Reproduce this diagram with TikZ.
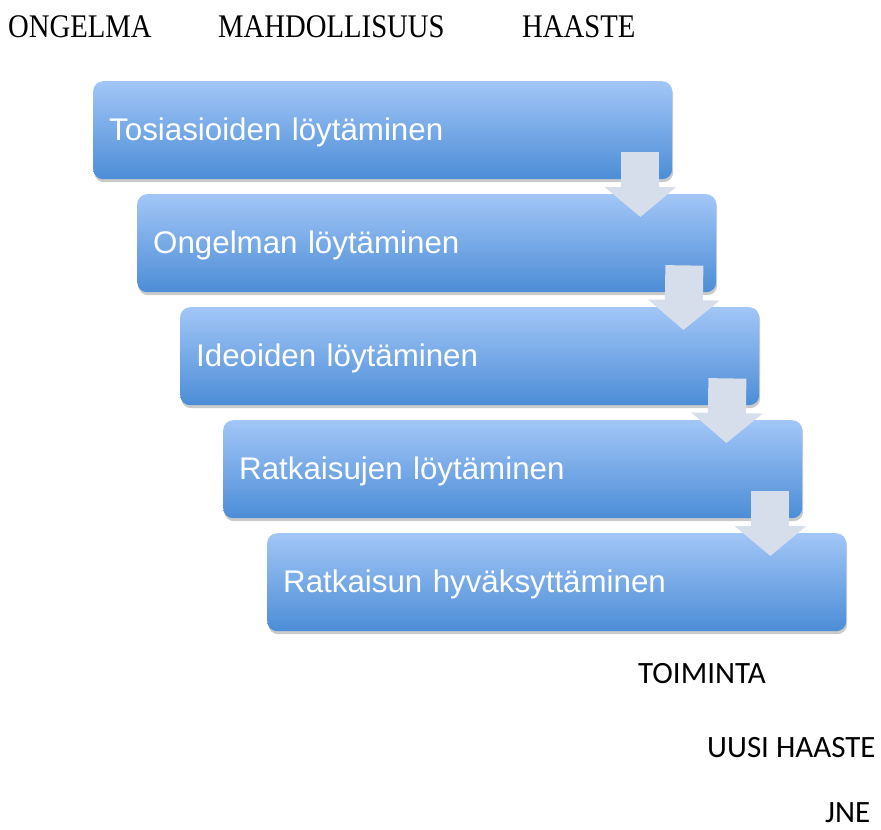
\documentclass[tikz,border=0pt]{standalone}
\usepackage{fontspec}
\usepackage{tikz}
\usetikzlibrary{arrows.meta,positioning,shadows}
\newfontfamily\boxfont{Liberation Sans}
\newfontfamily\headfont[FakeStretch=0.87]{Liberation Serif}
\newfontfamily\notefont{Carlito}
\definecolor{stepblue}{RGB}{162,198,247}
\definecolor{stepdeep}{RGB}{76,141,214}
\definecolor{flowgray}{RGB}{214,222,236}

\begin{document}
\begin{tikzpicture}[
  x=1pt,y=-1pt,
  stagebox/.style={rounded corners=10pt,top color=stepblue,bottom color=stepdeep,
    draw=none,text=white,anchor=north west,align=left,text width=547pt,
    inner xsep=16pt,inner ysep=0pt,minimum height=98pt,
    text height=21pt,text depth=0pt,
    font=\boxfont\fontsize{31.3}{33}\selectfont,
    drop shadow={shadow xshift=1pt,shadow yshift=-3pt,opacity=0.35,fill=black!60}},
  flow/.style={draw=flowgray,line width=38pt,
    -{Triangle[width=70pt,length=30pt]}},
  head/.style={anchor=base west,inner sep=0pt,
    font=\headfont\fontsize{33}{35}\selectfont},
  note/.style={anchor=base west,inner sep=0pt,
    font=\notefont\fontsize{31}{33}\selectfont}
]
\useasboundingbox (0,0) rectangle (881,830);
\node[head] (ongelma) at (8,37) {ONGELMA};
\node[head] (mahd) at (218,37) {MAHDOLLISUUS};
\node[head] (haaste) at (522,37) {HAASTE};
\node[stagebox] (facts) at (93,81) {Tosiasioiden löytäminen};
\node[stagebox] (problem) at (137,194) {Ongelman löytäminen};
\node[stagebox] (ideas) at (180,307) {Ideoiden löytäminen};
\node[stagebox] (solutions) at (223,420) {Ratkaisujen löytäminen};
\node[stagebox] (accept) at (267,533) {Ratkaisun hyväksyttäminen};
\draw[flow] ([xshift=-32pt,yshift=27pt]facts.south east) -- ([xshift=-76pt,yshift=-23pt]problem.north east);
\draw[flow] ([xshift=-32pt,yshift=27pt]problem.south east) -- ([xshift=-76pt,yshift=-23pt]ideas.north east);
\draw[flow] ([xshift=-32pt,yshift=27pt]ideas.south east) -- ([xshift=-76pt,yshift=-23pt]solutions.north east);
\draw[flow] ([xshift=-32pt,yshift=27pt]solutions.south east) -- ([xshift=-76pt,yshift=-23pt]accept.north east);
\node[note] (toiminta) at (638,683) {TOIMINTA};
\node[note] (uusi) at (707,757) {UUSI HAASTE};
\node[note] (jne) at (825,822) {JNE};
\end{tikzpicture}
\end{document}
